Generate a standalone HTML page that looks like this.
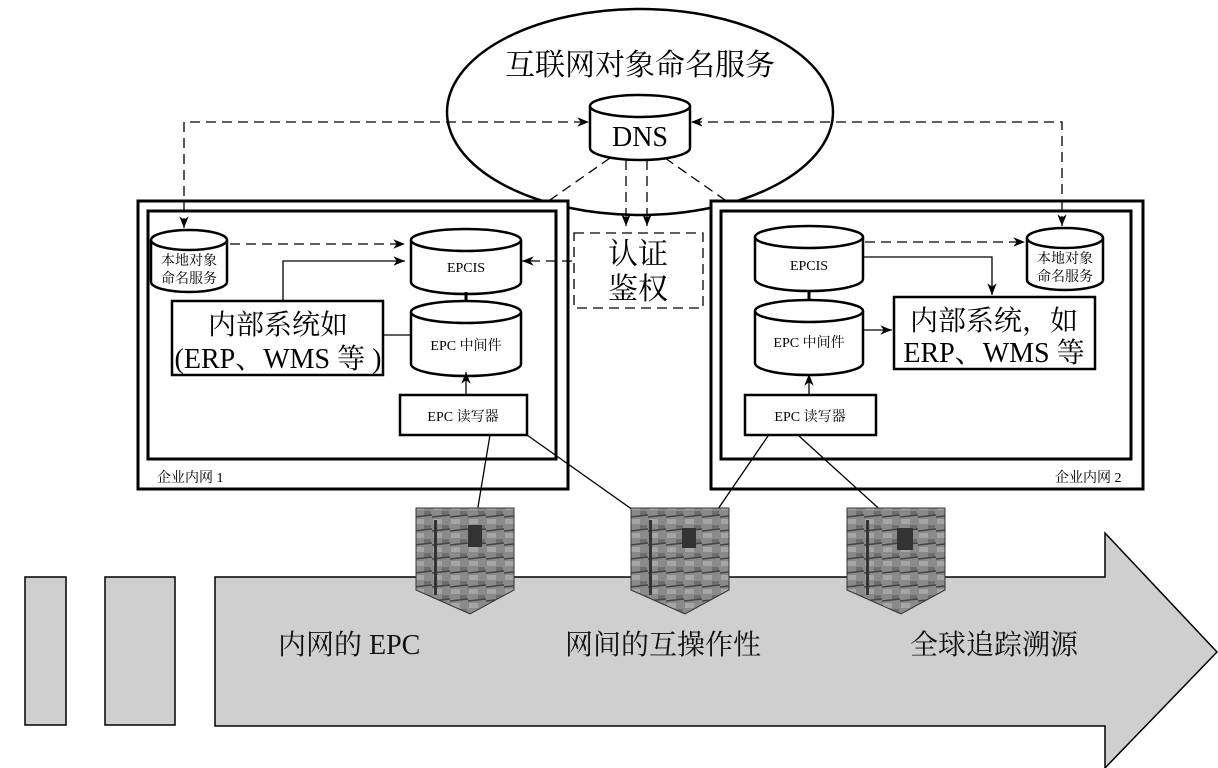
<!DOCTYPE html>
<html><head><meta charset="utf-8"><style>
body{margin:0;background:#fff;}
svg{display:block;font-family:"Liberation Serif","Noto Serif CJK SC","Noto Sans CJK SC",serif;}
</style></head><body>
<svg width="1218" height="768" viewBox="0 0 1218 768" xmlns="http://www.w3.org/2000/svg">
<defs>
<marker id="a" viewBox="0 0 10 10" refX="10" refY="5" markerWidth="9" markerHeight="9" orient="auto-start-reverse"><path d="M0,1 L10,5 L0,9 L3,5z" fill="#000"/></marker>
<pattern id="box" width="18" height="14" patternUnits="userSpaceOnUse"><rect width="18" height="14" fill="#8a8a8a"/><rect x="1" y="1" width="9" height="5" fill="#a5a5a5"/><rect x="10" y="7" width="7" height="5" fill="#6e6e6e"/><line x1="0" y1="13" x2="18" y2="11" stroke="#444" stroke-width="1.5"/></pattern>
</defs>
<!-- bottom arrow -->
<rect x="25" y="577" width="41" height="148" fill="#cfcfcf" stroke="#000" stroke-width="1.5"/>
<rect x="105" y="577" width="70" height="148" fill="#cfcfcf" stroke="#000" stroke-width="1.5"/>
<path d="M215,577 L1105,577 L1105,533 L1217,652 L1105,768 L1105,726 L215,726 Z" fill="#cfcfcf" stroke="#000" stroke-width="1.5"/>
<g font-size="28" fill="#111">
<text x="278" y="654">内网的 EPC</text>
<text x="565" y="654">网间的互操作性</text>
<text x="910" y="654">全球追踪溯源</text>
</g>
<!-- ellipse -->
<ellipse cx="640" cy="112" rx="193" ry="103" fill="#fff" stroke="#000" stroke-width="2.5"/>
<text x="640" y="75" font-size="30" text-anchor="middle">互联网对象命名服务</text>
<!-- boxes -->
<g fill="#fff" stroke="#000" stroke-width="3">
<rect x="138" y="201" width="430" height="288"/>
<rect x="148" y="211" width="408" height="248"/>
<rect x="711" y="201" width="432" height="288"/>
<rect x="721" y="211" width="410" height="248"/>
</g>
<g font-size="14"><text x="157" y="482">企业内网 1</text><text x="1055" y="482">企业内网 2</text></g>
<!-- DNS dashed lines -->
<g stroke="#000" stroke-width="1.3" stroke-dasharray="10,6" fill="none">
<path d="M184,228 L184,122 L589,122" marker-start="url(#a)" marker-end="url(#a)"/>
<path d="M1062,226 L1062,122 L691,122" marker-start="url(#a)" marker-end="url(#a)"/>
<path d="M610,158 L550,200"/><path d="M665,158 L725,200"/>
<path d="M626,160 L626,226" marker-end="url(#a)"/><path d="M647,160 L647,226" marker-end="url(#a)"/>
<rect x="574" y="233" width="129" height="75"/>
<path d="M572,261 L522,261" marker-end="url(#a)"/>
<path d="M230,244 L405,244" marker-end="url(#a)"/>
<path d="M865,242 L1025,242" marker-end="url(#a)"/>
</g>
<g font-size="30" text-anchor="middle"><text x="638" y="264">认证</text><text x="638" y="299">鉴权</text></g>
<!-- cylinder helper drawn manually -->
<g fill="#fff" stroke="#000" stroke-width="2.5">
<path d="M590,106 v42 a50,12 0 0 0 100,0 v-42"/><ellipse cx="640" cy="106" rx="50" ry="11"/>
<path d="M151,240 v42 a38,10 0 0 0 76,0 v-42"/><ellipse cx="189" cy="240" rx="38" ry="10"/>
<path d="M411,240 v42 a55,12 0 0 0 110,0 v-42"/><ellipse cx="466" cy="240" rx="55" ry="11"/>
<path d="M411,312 v52 a55,12 0 0 0 110,0 v-52"/><ellipse cx="466" cy="312" rx="55" ry="11"/>
<path d="M755,237 v42 a54,12 0 0 0 108,0 v-42"/><ellipse cx="809" cy="237" rx="54" ry="11"/>
<path d="M755,311 v52 a54,12 0 0 0 108,0 v-52"/><ellipse cx="809" cy="311" rx="54" ry="11"/>
<path d="M1027,238 v42 a38,10 0 0 0 76,0 v-42"/><ellipse cx="1065" cy="238" rx="38" ry="10"/>
<rect x="172" y="301" width="211" height="74"/>
<rect x="400" y="395" width="127" height="40"/>
<rect x="894" y="297" width="201" height="72"/>
<rect x="745" y="395" width="131" height="40"/>
</g>
<g stroke="#000" stroke-width="1.3" fill="none">
<path d="M283,300 L283,261 L405,261" marker-end="url(#a)"/>
<path d="M383,335 L411,335"/>
<path d="M466,300 L466,292" stroke-width="3"/>
<path d="M466,395 L466,372" marker-end="url(#a)"/>
<path d="M809,300 L809,290" stroke-width="3"/>
<path d="M809,395 L809,374" marker-end="url(#a)"/>
<path d="M863,257 L992,257 L992,295" marker-end="url(#a)"/>
<path d="M863,330 L892,330" marker-end="url(#a)"/>
<path d="M490,435 L477,513"/><path d="M527,435 L657,527"/>
<path d="M768,436 L707,525"/><path d="M799,436 L897,525"/>
</g>
<!-- texts -->
<text x="640" y="146" font-size="28" text-anchor="middle">DNS</text>
<g font-size="14" text-anchor="middle">
<text x="189" y="265">本地对象</text><text x="189" y="283">命名服务</text>
<text x="1065" y="263">本地对象</text><text x="1065" y="281">命名服务</text>
<text x="466" y="272">EPCIS</text><text x="466" y="350">EPC 中间件</text><text x="463" y="421">EPC 读写器</text>
<text x="809" y="270">EPCIS</text><text x="809" y="347">EPC 中间件</text><text x="810" y="421">EPC 读写器</text>
</g>
<g font-size="28" text-anchor="middle">
<text x="278" y="334">内部系统如</text><text x="278" y="368">(ERP、WMS 等 )</text>
<text x="994" y="330">内部系统，如</text><text x="994" y="362">ERP、WMS 等</text>
</g>
<!-- packages -->
<g stroke="#333" stroke-width="1">
<path d="M416,508 L514,508 L514,590 L470,614 L416,590 Z" fill="url(#box)"/>
<path d="M631,508 L729,508 L729,590 L685,614 L631,590 Z" fill="url(#box)"/>
<path d="M847,508 L945,508 L945,590 L901,614 L847,590 Z" fill="url(#box)"/>
</g>
<g fill="#333"><rect x="468" y="525" width="14" height="22"/><rect x="682" y="528" width="14" height="20"/><rect x="897" y="528" width="16" height="22"/>
<rect x="434" y="520" width="3" height="75"/><rect x="649" y="520" width="3" height="75"/><rect x="866" y="520" width="3" height="75"/></g>
</svg>
</body></html>
